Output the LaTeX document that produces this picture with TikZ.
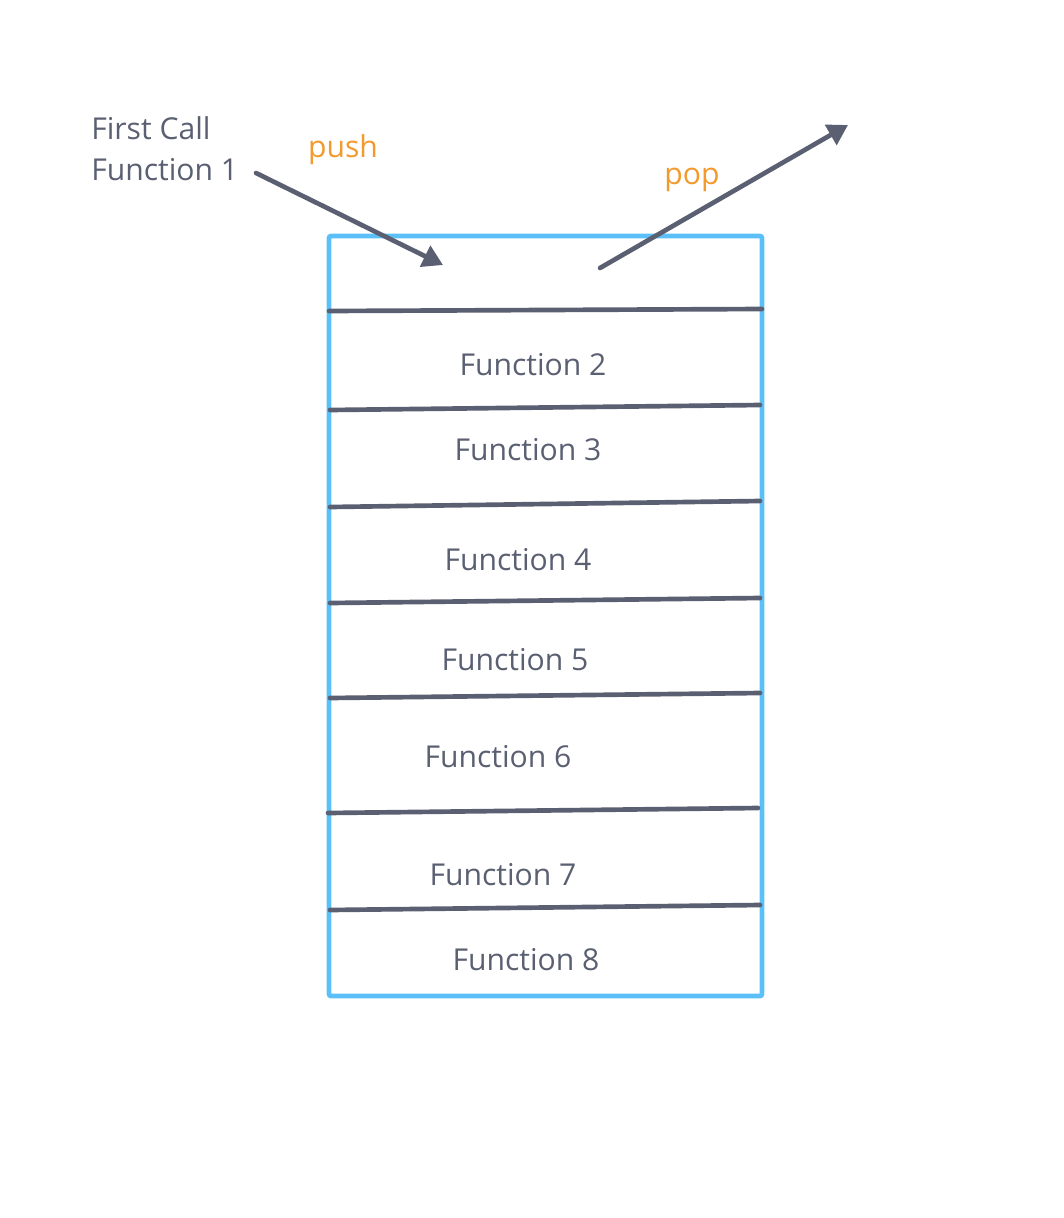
\documentclass[tikz,border=0pt]{standalone}
\usepackage{fontspec}
\setmainfont{Open Sans}
\usetikzlibrary{arrows.meta}

\definecolor{stackblue}{HTML}{5BC0F8}
\definecolor{inkgray}{HTML}{5A6072}
\definecolor{oporange}{HTML}{F29A2E}

\begin{document}
\begin{tikzpicture}[x=0.75pt,y=-0.75pt,
  fname/.style={text=inkgray,font=\fontsize{22.6}{30.75}\selectfont,inner sep=0pt,anchor=base},
  opname/.style={text=oporange,font=\fontsize{22.6}{30.75}\selectfont,inner sep=0pt,anchor=base},
  divider/.style={draw=inkgray,line width=3.5pt,line cap=round},
  callarrow/.style={draw=inkgray,line width=3.5pt,line cap=round,-{Triangle[length=15pt,width=17pt]}}]
\useasboundingbox (0,0) rectangle (1064,1218);

% the stack
\draw[stackblue,line width=3.5pt,rounded corners=1.5pt] (329,236) rectangle (762,996);

% frames
\draw[divider] (329,311) -- (762,309);
\draw[divider] (330,410) -- (760,405);
\draw[divider] (330,507) -- (760,501);
\draw[divider] (330,603) -- (760,598);
\draw[divider] (330,698) -- (760,693);
\draw[divider] (328,813) -- (758,808);
\draw[divider] (330,910) -- (760,905);

\node[fname] (f2) at (533,375) {Function 2};
\node[fname] (f3) at (528,460) {Function 3};
\node[fname] (f4) at (518,570) {Function 4};
\node[fname] (f5) at (515,670) {Function 5};
\node[fname] (f6) at (498,767) {Function 6};
\node[fname] (f7) at (503,885) {Function 7};
\node[fname] (f8) at (526,970) {Function 8};

% first call
\node[fname,anchor=base west,align=left] (f1) at (91,180) {First Call\\Function 1};

% push and pop
\coordinate (pushstart) at (256,173);
\coordinate (pushend) at (443,265);
\coordinate (popstart) at (600,268);
\coordinate (popend) at (848,125);
\draw[callarrow] (pushstart) -- (pushend);
\draw[callarrow] (popstart) -- (popend);
\node[opname] (push) at (343,157) {push};
\node[opname] (pop) at (692,184) {pop};
\end{tikzpicture}
\end{document}
